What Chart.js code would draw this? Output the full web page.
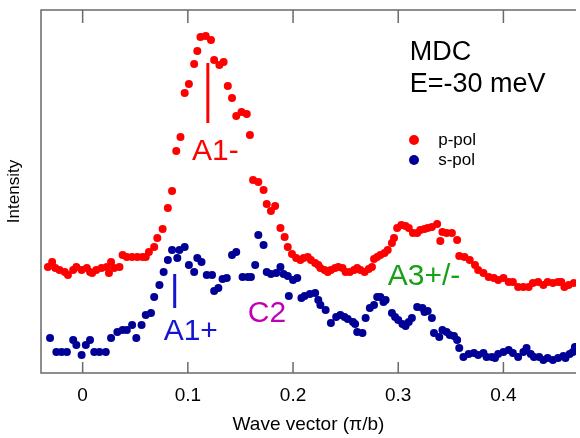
<!DOCTYPE html>
<html>
<head>
<meta charset="utf-8">
<script src="https://cdn.jsdelivr.net/npm/chart.js@4/dist/chart.umd.min.js"></script>
<style>
  body { margin: 0; background: #fff; }
  #wrap { width: 580px; height: 438px; }
</style>
</head>
<body>
<div id="wrap"><canvas id="mdc" width="580" height="438"></canvas></div>
<script>
// wave vector (pi/b) and intensity (arb. units)
const redK = [
  -0.033,-0.029,-0.026,-0.022,-0.017,-0.014,-0.009,-0.006,-0.001,0.004,
  0.007,0.009,0.013,0.018,0.023,0.025,0.027,0.030,0.035,0.038,
  0.042,0.047,0.052,0.057,0.060,0.063,0.068,0.071,0.076,0.081,
  0.085,0.089,0.093,0.097,0.101,0.106,0.109,0.112,0.117,0.122,
  0.125,0.130,0.134,0.138,0.142,0.146,0.151,0.156,0.159,0.162,
  0.167,0.172,0.175,0.179,0.183,0.188,0.192,0.195,0.199,0.203,
  0.207,0.210,0.214,0.217,0.221,0.224,0.226,0.230,0.233,0.236,
  0.240,0.243,0.247,0.250,0.254,0.258,0.261,0.264,0.268,0.272,
  0.275,0.277,0.280,0.283,0.287,0.290,0.294,0.296,0.299,0.303,
  0.307,0.310,0.314,0.318,0.321,0.325,0.328,0.332,0.337,0.340,
  0.342,0.346,0.351,0.356,0.358,0.363,0.368,0.373,0.376,0.381,
  0.386,0.391,0.395,0.400,0.405,0.409,0.414,0.419,0.424,0.428,
  0.433,0.438,0.442,0.447,0.452,0.455,0.458,0.462,0.467
];
const redI = [
  106,111,105,103,101,98,103,106,103,105,
  101,100,103,105,106,100,111,105,106,118,
  116,116,116,116,116,121,126,135,144,165,
  182,222,236,280,289,309,322,336,337,333,
  313,308,311,287,275,257,261,259,238,193,
  191,183,169,162,167,145,136,126,119,115,
  113,115,116,113,110,108,105,103,101,103,
  105,106,105,101,101,103,105,103,101,104,
  106,114,116,118,120,123,130,135,145,148,
  147,145,140,140,143,144,145,146,149,132,
  141,140,140,133,117,116,113,108,103,100,
  96,95,93,95,91,91,86,86,86,90,
  91,88,91,90,91,91,86,88,90
];
const blueK = [
  -0.031,-0.025,-0.020,-0.015,-0.009,-0.006,-0.001,0.003,0.007,0.011,
  0.016,0.022,0.027,0.033,0.038,0.042,0.047,0.051,0.056,0.060,
  0.065,0.068,0.073,0.077,0.081,0.085,0.090,0.092,0.097,0.101,
  0.106,0.109,0.113,0.118,0.123,0.125,0.129,0.133,0.137,0.142,
  0.146,0.152,0.157,0.160,0.164,0.167,0.172,0.175,0.179,0.184,
  0.188,0.191,0.195,0.196,0.200,0.204,0.208,0.211,0.216,0.221,
  0.224,0.226,0.231,0.236,0.241,0.245,0.249,0.252,0.257,0.259,
  0.261,0.266,0.269,0.273,0.277,0.280,0.283,0.286,0.288,0.294,
  0.297,0.300,0.304,0.307,0.310,0.313,0.318,0.323,0.325,0.328,
  0.332,0.334,0.339,0.342,0.346,0.349,0.353,0.356,0.358,0.362,
  0.367,0.372,0.376,0.381,0.384,0.389,0.392,0.395,0.400,0.405,
  0.409,0.414,0.419,0.422,0.426,0.429,0.434,0.438,0.442,0.447,
  0.452,0.457,0.459,0.463,0.466,0.468
];
const blueI = [
  35,21,21,21,33,28,18,28,33,21,
  21,21,35,41,43,43,48,35,48,58,
  60,76,88,101,113,123,115,123,126,108,
  101,115,111,98,98,82,85,94,95,118,
  121,96,96,96,108,138,128,101,99,100,
  106,99,97,77,93,95,75,77,79,80,
  73,68,63,50,56,58,56,54,51,49,
  41,40,55,65,68,76,76,71,73,60,
  56,53,49,47,51,55,66,65,61,62,
  55,40,36,43,41,38,37,33,25,16,
  19,20,18,20,16,16,15,19,21,23,
  20,16,21,25,19,16,16,13,15,13,
  15,17,15,19,21,26
];
const tickValues = [0, 0.1, 0.2, 0.3, 0.4];
const seriesNames = ['p-pol', 's-pol'];

const RED = '#ff0000';
const NAVY = '#000096';
const FONT = "'Liberation Sans', Arial, sans-serif";

function toPoints(ks, is) {
  return ks.map((k, n) => ({ x: k, y: is[n] }));
}

// text labels and marker bars, placed in data coordinates
const notes = [
  { text: 'MDC', k: 0.311, i: 313, color: '#000', size: 27 },
  { text: 'E=-30 meV', k: 0.311, i: 281, color: '#000', size: 27 },
  { text: 'A1-', k: 0.104, i: 213, color: RED, size: 30 },
  { text: 'A1+', k: 0.077, i: 33, color: '#1414d2', size: 30 },
  { text: 'C2', k: 0.157, i: 51, color: '#c000b4', size: 30 },
  { text: 'A3+/-', k: 0.290, i: 88, color: '#18a018', size: 30 }
];
const bars = [
  { k: 0.119, from: 250, to: 310, color: RED },
  { k: 0.0875, from: 65, to: 99, color: '#1414d2' }
];

const framePlugin = {
  id: 'frame',
  beforeDatasetsDraw(chart) {
    const { ctx, chartArea: a, scales: { x } } = chart;
    ctx.save();
    ctx.strokeStyle = '#6a6a6a';
    ctx.lineWidth = 1.5;
    ctx.beginPath();
    ctx.moveTo(a.right, a.top); ctx.lineTo(a.left, a.top);
    ctx.lineTo(a.left, a.bottom); ctx.lineTo(a.right, a.bottom);
    tickValues.forEach(v => {
      const px = x.getPixelForValue(v);
      ctx.moveTo(px, a.top); ctx.lineTo(px, a.top + 13);
      ctx.moveTo(px, a.bottom); ctx.lineTo(px, a.bottom - 11);
    });
    ctx.stroke();
    ctx.restore();
  },
  afterDatasetsDraw(chart) {
    const { ctx, scales: { x, y } } = chart;
    ctx.save();
    bars.forEach(b => {
      const px = x.getPixelForValue(b.k);
      ctx.strokeStyle = b.color;
      ctx.lineWidth = 3;
      ctx.beginPath();
      ctx.moveTo(px, y.getPixelForValue(b.from));
      ctx.lineTo(px, y.getPixelForValue(b.to));
      ctx.stroke();
    });
    ctx.textBaseline = 'alphabetic';
    ctx.textAlign = 'left';
    notes.forEach(n => {
      ctx.fillStyle = n.color;
      ctx.font = n.size + 'px ' + FONT;
      ctx.fillText(n.text, x.getPixelForValue(n.k), y.getPixelForValue(n.i));
    });
    // legend
    const legendRows = [
      { name: seriesNames[0], color: RED, i: 233 },
      { name: seriesNames[1], color: NAVY, i: 213 }
    ];
    ctx.font = '17px ' + FONT;
    ctx.textBaseline = 'middle';
    legendRows.forEach(r => {
      const py = y.getPixelForValue(r.i);
      ctx.fillStyle = r.color;
      ctx.beginPath();
      ctx.arc(x.getPixelForValue(0.315), py, 5, 0, Math.PI * 2);
      ctx.fill();
      ctx.fillStyle = '#000';
      ctx.fillText(r.name, x.getPixelForValue(0.338), py);
    });
    ctx.restore();
  }
};

new Chart(document.getElementById('mdc'), {
  type: 'scatter',
  data: {
    datasets: [
      { label: seriesNames[0], data: toPoints(redK, redI), backgroundColor: RED, borderWidth: 0, pointRadius: 4 },
      { label: seriesNames[1], data: toPoints(blueK, blueI), backgroundColor: NAVY, borderWidth: 0, pointRadius: 4 }
    ]
  },
  options: {
    responsive: false,
    animation: false,
    layout: { padding: { top: 10, right: 0, left: 0, bottom: 0 } },
    plugins: { legend: { display: false }, tooltip: { enabled: false } },
    scales: {
      x: {
        type: 'linear',
        min: -0.0396,
        max: 0.469,
        grid: { display: false, drawTicks: false },
        border: { display: false },
        ticks: {
          stepSize: 0.1,
          includeBounds: false,
          padding: 11,
          color: '#000',
          font: { family: FONT, size: 19 }
        },
        title: {
          display: true,
          text: 'Wave vector (π/b)',
          color: '#000',
          font: { family: FONT, size: 19 },
          padding: { top: 0, bottom: 2 }
        },
        afterFit(scale) { scale.height = 65; }
      },
      y: {
        type: 'linear',
        min: 0,
        max: 363,
        grid: { display: false, drawTicks: false },
        border: { display: false },
        ticks: { display: false },
        title: {
          display: true,
          text: 'Intensity',
          color: '#000',
          font: { family: FONT, size: 17 },
          padding: { top: 4, bottom: 0 }
        },
        afterFit(scale) { scale.width = 41; }
      }
    }
  },
  plugins: [framePlugin]
});
</script>
</body>
</html>
